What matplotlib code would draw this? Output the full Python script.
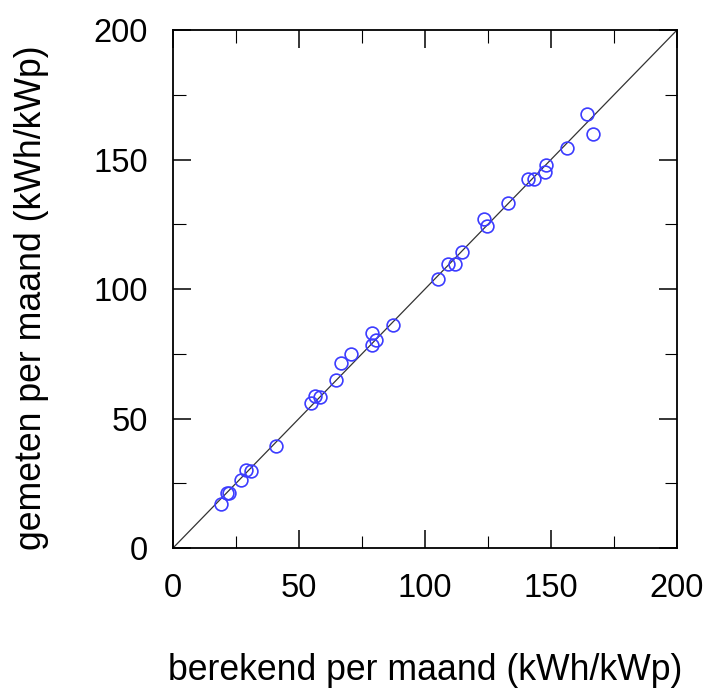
import matplotlib
matplotlib.use("Agg")
import matplotlib.pyplot as plt
from matplotlib.ticker import MultipleLocator

berekend = [18.9, 21.6, 22.4, 26.9, 29.0, 30.8, 40.7, 54.8, 56.5, 58.3, 64.7,
            66.7, 70.8, 79.0, 80.7, 79.0, 87.2, 105.2, 109.0, 111.8, 114.8,
            123.4, 124.5, 132.9, 141.0, 143.4, 147.8, 147.9, 156.2, 164.2, 166.7]
gemeten = [17.0, 21.4, 21.1, 26.1, 30.2, 29.6, 39.3, 56.0, 58.7, 58.4, 65.0,
           71.4, 75.0, 78.5, 80.3, 83.1, 86.0, 103.9, 109.8, 109.8, 114.2,
           127.1, 124.2, 133.3, 142.5, 142.3, 145.1, 147.9, 154.4, 167.7, 159.7]
diag = [0, 200]
ticks = [0, 50, 100, 150, 200]

plt.rcParams['font.family'] = ['Liberation Sans', 'DejaVu Sans']
fig = plt.figure(figsize=(7.07, 6.95), dpi=100)
ax = fig.add_axes([0.2447, 0.2115, 0.9576 - 0.2447, 0.9568 - 0.2115])
ax.plot(diag, diag, color='#333333', lw=0.9, zorder=1)
ax.plot(berekend, gemeten, linestyle='none', marker='o', ms=9.2, mfc='none',
        mec='#3c3cff', mew=1.2, zorder=2)
ax.set_xlim(0, 200)
ax.set_ylim(0, 200)
ax.set_xticks(ticks)
ax.set_yticks(ticks)
ax.xaxis.set_minor_locator(MultipleLocator(25))
ax.yaxis.set_minor_locator(MultipleLocator(25))
ax.tick_params(which='both', direction='in', top=True, right=True, labelsize=23.5)
ax.tick_params(which='major', length=13, width=1.1)
ax.tick_params(which='minor', length=9, width=0.8)
ax.tick_params(axis='x', which='major', pad=18)
ax.tick_params(axis='y', which='major', pad=18)
for s in ax.spines.values():
    s.set_linewidth(1.3)
ax.set_xlabel('berekend per maand (kWh/kWp)', fontsize=25.7, labelpad=35)
ax.set_ylabel('gemeten per maand (kWh/kWp)', fontsize=25.7, labelpad=32)
ax.yaxis.label.set_y(0.483)
fig.savefig('out.png', dpi=100)
